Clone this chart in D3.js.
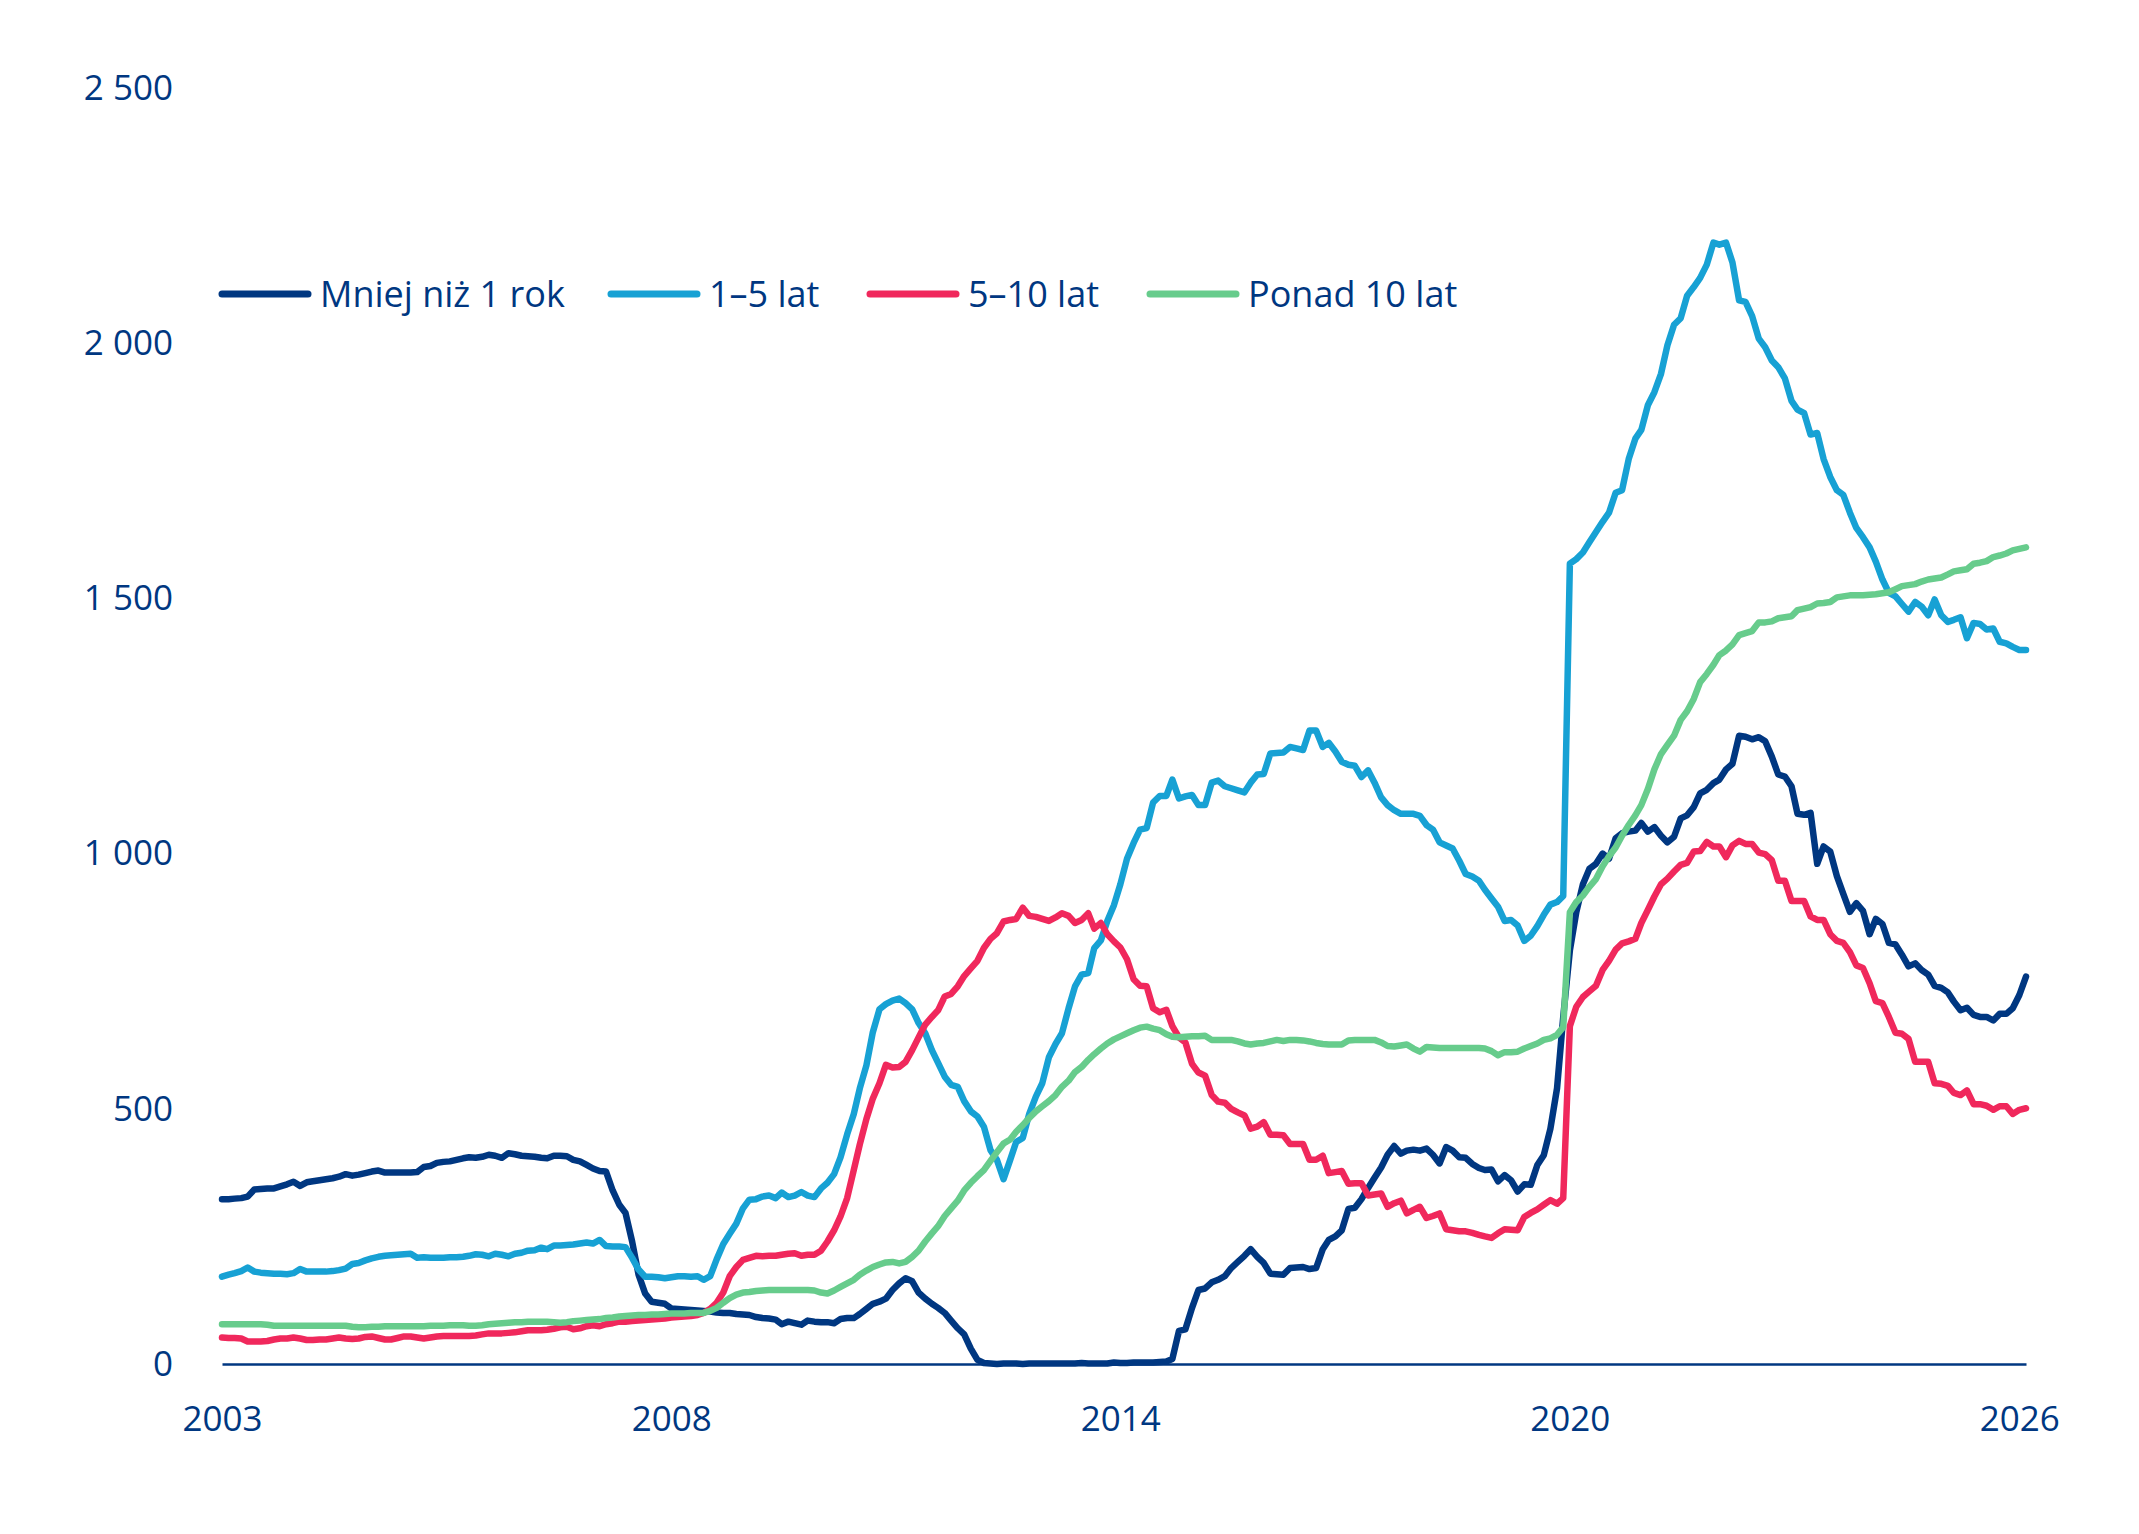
<!DOCTYPE html>
<html>
<head>
<meta charset="utf-8">
<script src="https://cdn.jsdelivr.net/npm/d3@7"></script>
<style>
  body { margin: 0; background: #fff; }
  text { font-family: "Open Sans", "Noto Sans", sans-serif; fill: #003781; }
</style>
</head>
<body>
<div id="chart"></div>
<script>
// monthly values, first month below
var startMonth = "2003-01";

var seriesNames = ["Mniej niż 1 rok", "1–5 lat", "5–10 lat", "Ponad 10 lat"];
var seriesColors = ["#003781", "#17a1d4", "#f0285c", "#67cc8c"];

var lessThan1 = [
  323,323,324,325,328,342,343,344,344,348,
  352,357,349,356,358,360,362,364,367,372,
  369,371,374,377,379,375,375,375,375,375,
  376,386,388,394,396,397,400,403,405,404,
  406,410,408,404,413,411,408,407,406,404,
  403,408,408,407,400,397,390,383,378,377,
  340,312,296,240,175,138,122,120,118,109,
  108,107,106,105,104,103,101,100,100,98,
  97,96,92,90,89,87,78,83,80,77,
  85,83,82,82,80,88,90,90,98,108,
  118,122,128,145,158,168,162,140,128,118,
  110,100,85,70,58,30,8,2,1,0,
  1,1,1,0,1,1,1,1,1,1,
  1,1,2,1,1,1,1,3,2,2,
  3,3,3,3,4,5,10,65,68,110,
  145,148,160,165,172,188,200,212,225,210,
  198,177,176,175,188,189,190,186,188,225,
  243,250,262,304,306,323,345,365,385,410,
  427,412,418,420,418,422,410,393,425,418,
  405,404,392,384,380,381,358,370,360,338,
  352,351,390,409,461,540,680,810,885,940,
  970,980,1000,990,1030,1040,1043,1045,1060,1043,
  1052,1035,1022,1033,1069,1075,1091,1118,1125,1138,
  1145,1165,1176,1231,1229,1224,1228,1220,1190,1155,
  1151,1132,1078,1076,1080,980,1014,1004,956,921,
  886,903,888,842,872,862,825,822,802,779,
  785,772,763,741,737,728,710,693,698,684,
  680,680,673,686,686,697,723,759
];

var from1to5 = [
  171,175,178,182,189,181,179,178,177,177,
  176,178,186,181,181,181,181,182,184,187,
  196,198,203,207,210,212,213,214,215,216,
  208,209,208,208,208,209,209,210,212,215,
  214,211,216,214,211,216,218,222,223,228,
  225,232,232,233,234,236,238,236,243,231,
  230,230,229,208,185,171,171,170,168,170,
  172,172,171,172,165,172,205,235,255,275,
  305,322,323,328,330,325,336,327,330,337,
  330,327,344,355,372,405,450,490,540,585,
  650,695,705,712,716,707,695,668,648,615,
  590,563,547,543,515,495,485,465,419,400,
  362,400,435,443,490,524,550,601,627,648,
  697,740,763,766,815,830,868,899,940,990,
  1021,1047,1050,1100,1113,1113,1145,1108,1112,1115,
  1095,1095,1139,1143,1132,1128,1124,1120,1139,1155,
  1156,1196,1197,1198,1209,1206,1203,1241,1241,1209,
  1217,1200,1180,1174,1172,1150,1163,1139,1110,1095,
  1085,1078,1078,1078,1074,1056,1047,1022,1016,1010,
  986,960,955,947,929,912,896,868,870,859,
  829,839,858,880,900,905,917,1568,1577,1590,
  1610,1630,1650,1668,1707,1712,1773,1813,1830,1879,
  1904,1940,1996,2036,2049,2093,2110,2128,2154,2197,
  2193,2197,2158,2084,2081,2053,2009,1992,1966,1953,
  1931,1887,1870,1863,1821,1824,1773,1738,1712,1703,
  1668,1638,1620,1600,1572,1537,1511,1504,1489,1474,
  1493,1484,1467,1498,1467,1454,1458,1463,1422,1452,
  1450,1439,1441,1415,1412,1405,1399,1399
];

var from5to10 = [
  52,51,51,50,44,44,44,45,48,50,
  50,52,50,47,47,48,48,50,52,50,
  49,50,53,54,51,48,48,51,54,54,
  52,50,52,54,55,55,55,55,55,56,
  58,60,60,60,61,62,64,66,66,66,
  67,69,72,73,68,70,74,76,74,78,
  80,83,83,84,85,86,87,88,89,91,
  92,93,94,96,100,108,120,140,172,190,
  204,208,212,211,212,212,214,216,217,212,
  214,214,222,240,262,289,325,380,430,480,
  520,550,586,581,582,592,615,640,665,680,
  693,720,725,740,760,775,790,815,833,844,
  867,870,872,894,878,876,872,868,875,883,
  878,864,870,883,853,864,842,828,816,793,
  754,741,740,697,689,694,662,640,630,588,
  571,565,527,514,512,500,493,487,461,465,
  474,449,449,448,431,431,431,400,400,408,
  374,376,378,353,354,354,330,332,334,308,
  315,320,295,302,308,286,290,295,264,262,
  260,260,257,253,250,247,256,264,263,262,
  288,296,303,312,321,314,325,662,700,719,
  730,741,772,790,812,824,828,833,864,890,
  916,940,951,965,978,982,1004,1005,1023,1014,
  1014,993,1016,1025,1019,1019,1002,999,987,947,
  947,907,907,907,877,870,870,842,829,825,
  807,781,776,746,711,707,680,649,647,637,
  592,592,592,550,549,545,531,527,536,509,
  509,506,498,505,505,490,498,501
];

var over10 = [
  78,78,78,78,78,78,78,77,75,75,
  75,75,75,75,75,75,75,75,75,75,
  73,72,72,73,73,74,74,74,74,74,
  74,74,75,75,75,76,76,76,75,75,
  76,78,79,80,81,82,82,83,83,83,
  83,82,81,82,84,85,86,87,88,90,
  91,93,94,95,96,96,97,97,98,99,
  99,99,100,100,100,104,110,120,129,136,
  140,141,143,144,145,145,145,145,145,145,
  145,144,140,138,144,151,158,165,175,183,
  190,195,199,200,197,200,210,222,240,256,
  270,290,305,320,340,355,368,380,398,415,
  432,440,455,468,482,495,505,515,527,543,
  555,572,582,596,607,618,628,636,642,648,
  654,659,661,657,654,646,641,640,641,642,
  642,643,635,635,635,635,632,628,626,628,
  629,632,635,633,635,635,634,632,629,627,
  626,626,626,634,635,635,635,635,630,623,
  622,624,626,618,612,621,620,619,619,619,
  619,619,619,619,618,613,605,611,611,612,
  618,623,628,635,638,645,660,885,905,918,
  935,950,975,995,1012,1035,1056,1075,1095,1127,
  1165,1195,1213,1231,1262,1279,1303,1336,1352,1370,
  1389,1398,1410,1428,1432,1436,1453,1453,1455,1461,
  1463,1465,1477,1480,1483,1490,1491,1493,1502,1504,
  1506,1506,1506,1507,1508,1510,1512,1518,1524,1526,
  1528,1533,1537,1539,1541,1547,1553,1555,1557,1568,
  1570,1573,1581,1584,1588,1594,1597,1600
];

var tickMonths = ["2003-01", "2008-10", "2014-07", "2020-04", "2026-01"];
var yTicks = [0, 500, 1000, 1500, 2000, 2500];

var svgWidth = 2139;
var svgHeight = 1534;
var plot = { left: 222, right: 2026, top: 88, bottom: 1364 };
var textColor = "#003781";

var svg = d3.select("#chart")
  .append("svg")
  .attr("width", svgWidth)
  .attr("height", svgHeight);

var parseMonth = d3.timeParse("%Y-%m");
var months = lessThan1.map(function(d, i) {
  return d3.timeMonth.offset(parseMonth(startMonth), i);
});

var xScale = d3.scaleTime()
  .domain([months[0], months[months.length - 1]])
  .range([plot.left, plot.right]);

var yScale = d3.scaleLinear()
  .domain([0, 2500])
  .range([plot.bottom, plot.top]);

var plLocale = d3.formatLocale({ decimal: ",", thousands: "\u00a0", grouping: [3], currency: ["", " zł"] });
var fmt = plLocale.format(",d");

// y labels, no ticks, no domain
var leftAxis = d3.axisLeft(yScale)
  .tickValues(yTicks)
  .tickSize(0)
  .tickPadding(49)
  .tickFormat(fmt);

var yAxisG = svg.append("g")
  .attr("transform", `translate(${plot.left}, 0)`)
  .call(leftAxis);
yAxisG.select(".domain").remove();
yAxisG.selectAll("text")
  .attr("font-size", 35)
  .attr("font-family", "Open Sans, Noto Sans, sans-serif")
  .attr("fill", textColor);

// x labels + baseline
var bottomAxis = d3.axisBottom(xScale)
  .tickValues(tickMonths.map(parseMonth))
  .tickSize(0)
  .tickSizeOuter(0)
  .tickPadding(42)
  .tickFormat(d3.timeFormat("%Y"));

var xAxisG = svg.append("g")
  .attr("transform", `translate(0, ${plot.bottom})`)
  .call(bottomAxis);
xAxisG.select(".domain")
  .attr("stroke", textColor)
  .attr("stroke-width", 2.5);
xAxisG.selectAll("text")
  .attr("font-size", 35)
  .attr("font-family", "Open Sans, Noto Sans, sans-serif")
  .attr("fill", textColor);

var allSeries = [lessThan1, from1to5, from5to10, over10];

var line = d3.line()
  .x(function(d, i) { return xScale(months[i]); })
  .y(function(d) { return yScale(d); });

svg.append("g")
  .selectAll("path")
  .data(allSeries)
  .enter()
  .append("path")
  .attr("d", function(d) { return line(d); })
  .attr("fill", "none")
  .attr("stroke", function(d, i) { return seriesColors[i]; })
  .attr("stroke-width", 6.5)
  .attr("stroke-linejoin", "round")
  .attr("stroke-linecap", "round");

// legend, item starts
var legendY = 294;
var legendStarts = [222, 611, 870, 1150];
var legend = svg.append("g");
seriesNames.forEach(function(name, i) {
  var item = legend.append("g").attr("transform", `translate(${legendStarts[i]}, ${legendY})`);
  item.append("line")
    .attr("x1", 0).attr("x2", 86)
    .attr("y1", 0).attr("y2", 0)
    .attr("stroke", seriesColors[i])
    .attr("stroke-width", 7)
    .attr("stroke-linecap", "round");
  item.append("text")
    .attr("x", 98)
    .attr("y", 0)
    .attr("dy", "0.35em")
    .attr("font-size", 36)
    .text(name);
});
</script>
</body>
</html>
